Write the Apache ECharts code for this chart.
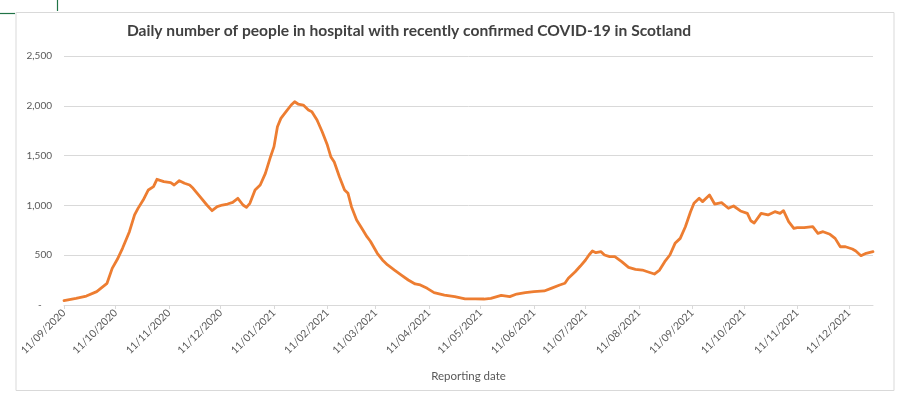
<!DOCTYPE html>
<html>
<head>
<meta charset="utf-8">
<script src="https://cdn.jsdelivr.net/npm/echarts@6/dist/echarts.min.js"></script>
<style>
html,body{margin:0;padding:0;background:#fff;}
#chart{width:900px;height:395px;}
</style>
</head>
<body>
<div id="chart"></div>
<script>
// ---- Data ----
const titleText = 'Daily number of people in hospital with recently confirmed COVID-19 in Scotland';
const xAxisTitle = 'Reporting date';
const firstDate = '11/09/2020';
const lastDate = '25/12/2021';
const tickLabels = ['11/09/2020','11/10/2020','11/11/2020','11/12/2020','11/01/2021','11/02/2021','11/03/2021','11/04/2021','11/05/2021','11/06/2021','11/07/2021','11/08/2021','11/09/2021','11/10/2021','11/11/2021','11/12/2021'];
const yTicks = [0, 500, 1000, 1500, 2000, 2500];

const sampleDates = [
 '11/09/2020','18/09/2020','24/09/2020','30/09/2020','06/10/2020','09/10/2020','12/10/2020','15/10/2020','19/10/2020','22/10/2020',
 '24/10/2020','27/10/2020','30/10/2020','02/11/2020','04/11/2020','08/11/2020','12/11/2020','14/11/2020','17/11/2020','20/11/2020',
 '23/11/2020','25/11/2020','29/11/2020','03/12/2020','06/12/2020','09/12/2020','12/12/2020','15/12/2020','18/12/2020','21/12/2020',
 '24/12/2020','26/12/2020','28/12/2020','31/12/2020','03/01/2021','06/01/2021','09/01/2021','11/01/2021','13/01/2021','15/01/2021',
 '18/01/2021','21/01/2021','23/01/2021','25/01/2021','28/01/2021','31/01/2021','02/02/2021','05/02/2021','08/02/2021','11/02/2021',
 '13/02/2021','15/02/2021','18/02/2021','21/02/2021','23/02/2021','25/02/2021','28/02/2021','03/03/2021','06/03/2021','08/03/2021',
 '12/03/2021','15/03/2021','18/03/2021','22/03/2021','26/03/2021','30/03/2021','03/04/2021','06/04/2021','10/04/2021','14/04/2021',
 '20/04/2021','26/04/2021','02/05/2021','08/05/2021','13/05/2021','17/05/2021','23/05/2021','28/05/2021','01/06/2021','06/06/2021',
 '11/06/2021','17/06/2021','21/06/2021','26/06/2021','29/06/2021','01/07/2021','05/07/2021','08/07/2021','11/07/2021','13/07/2021',
 '15/07/2021','17/07/2021','20/07/2021','22/07/2021','25/07/2021','28/07/2021','01/08/2021','05/08/2021','09/08/2021','13/08/2021',
 '16/08/2021','20/08/2021','23/08/2021','26/08/2021','29/08/2021','01/09/2021','04/09/2021','07/09/2021','10/09/2021','12/09/2021',
 '15/09/2021','17/09/2021','21/09/2021','24/09/2021','28/09/2021','02/10/2021','05/10/2021','09/10/2021','13/10/2021','15/10/2021',
 '17/10/2021','21/10/2021','25/10/2021','29/10/2021','01/11/2021','03/11/2021','06/11/2021','09/11/2021','11/11/2021','15/11/2021',
 '20/11/2021','23/11/2021','26/11/2021','30/11/2021','03/12/2021','06/12/2021','09/12/2021','13/12/2021','15/12/2021','18/12/2021',
 '21/12/2021','25/12/2021'
];
const sampleValues = [
 45, 67, 90, 134, 218, 368, 459, 569, 736, 904,
 970, 1054, 1155, 1188, 1262, 1238, 1228, 1205, 1248, 1222,
 1205, 1172, 1087, 1004, 947, 987, 1004, 1014, 1031, 1071,
 1004, 981, 1021, 1155, 1205, 1322, 1489, 1590, 1790, 1874,
 1941, 2008, 2041, 2018, 2008, 1958, 1941, 1857, 1740, 1606,
 1489, 1435, 1288, 1155, 1121, 987, 853, 770, 686, 640,
 519, 452, 402, 351, 301, 251, 211, 201, 167, 124,
 100, 84, 62, 62, 60, 67, 97, 84, 110, 124,
 134, 141, 167, 201, 218, 268, 334, 391, 452, 502,
 542, 525, 535, 502, 485, 485, 435, 378, 358, 351,
 334, 311, 351, 435, 502, 619, 669, 786, 937, 1021,
 1071, 1038, 1104, 1014, 1028, 971, 994, 944, 920, 846,
 823, 920, 904, 937, 920, 947, 837, 770, 777, 777,
 787, 720, 736, 710, 669, 585, 585, 562, 542, 495,
 519, 535
];

// ---- Build daily category list ----
function parseDMY(s){ const p = s.split('/'); return Date.UTC(+p[2], +p[1]-1, +p[0]); }
function fmtDMY(t){ const d = new Date(t); const dd = String(d.getUTCDate()).padStart(2,'0'); const mm = String(d.getUTCMonth()+1).padStart(2,'0'); return dd + '/' + mm + '/' + d.getUTCFullYear(); }
const categories = [];
for (let t = parseDMY(firstDate); t <= parseDMY(lastDate); t += 86400000) categories.push(fmtDMY(t));
const tickSet = new Set(tickLabels);
const seriesData = sampleDates.map((d, i) => [d, sampleValues[i]]);

const chart = echarts.init(document.getElementById('chart'), null, {renderer: 'canvas'});
chart.setOption({
  animation: false,
  backgroundColor: '#ffffff',
  title: {
    text: titleText,
    left: 404, top: 18, textAlign: 'center',
    textStyle: {fontFamily: 'Lato', fontWeight: 'bold', fontSize: 15.6, color: '#404040'}
  },
  graphic: [
    {type: 'rect', shape: {x: 16, y: 12.5, width: 878, height: 378}, style: {fill: 'none', stroke: '#d9d9d9', lineWidth: 1}, z: 0},
    {type: 'line', shape: {x1: 0, y1: 13.5, x2: 15, y2: 13.5}, style: {stroke: '#217346', lineWidth: 1.2}},
    {type: 'line', shape: {x1: 57.5, y1: 0, x2: 57.5, y2: 11}, style: {stroke: '#217346', lineWidth: 1.2}}
  ],
  grid: {left: 64, right: 27, top: 56, bottom: 90, containLabel: false},
  xAxis: {
    type: 'category',
    data: categories,
    boundaryGap: false,
    name: xAxisTitle,
    nameLocation: 'middle',
    nameGap: 65,
    nameTextStyle: {fontFamily: 'Lato', fontSize: 11.5, color: '#595959'},
    axisLine: {lineStyle: {color: '#d9d9d9', width: 1}},
    axisTick: {show: true, length: 4, interval: (i, v) => tickSet.has(v), lineStyle: {color: '#d9d9d9'}},
    axisLabel: {
      interval: (i, v) => tickSet.has(v),
      rotate: 45, margin: 6,
      fontFamily: 'Lato', fontSize: 10.5, color: '#595959'
    },
    splitLine: {show: false}
  },
  yAxis: {
    type: 'value',
    min: 0, max: 2500, interval: 500,
    axisLine: {show: false},
    axisTick: {show: false},
    axisLabel: {
      margin: 12,
      fontFamily: 'Lato', fontSize: 10, color: '#595959',
      formatter: v => v === 0 ? '-    ' : v.toLocaleString('en-US')
    },
    splitLine: {lineStyle: {color: '#d9d9d9', width: 1}}
  },
  series: [{
    type: 'line',
    data: seriesData,
    showSymbol: false,
    smooth: false,
    lineStyle: {color: '#ED7D31', width: 2.8, join: 'round', cap: 'round'},
    itemStyle: {color: '#ED7D31'}
  }]
});
</script>
</body>
</html>
